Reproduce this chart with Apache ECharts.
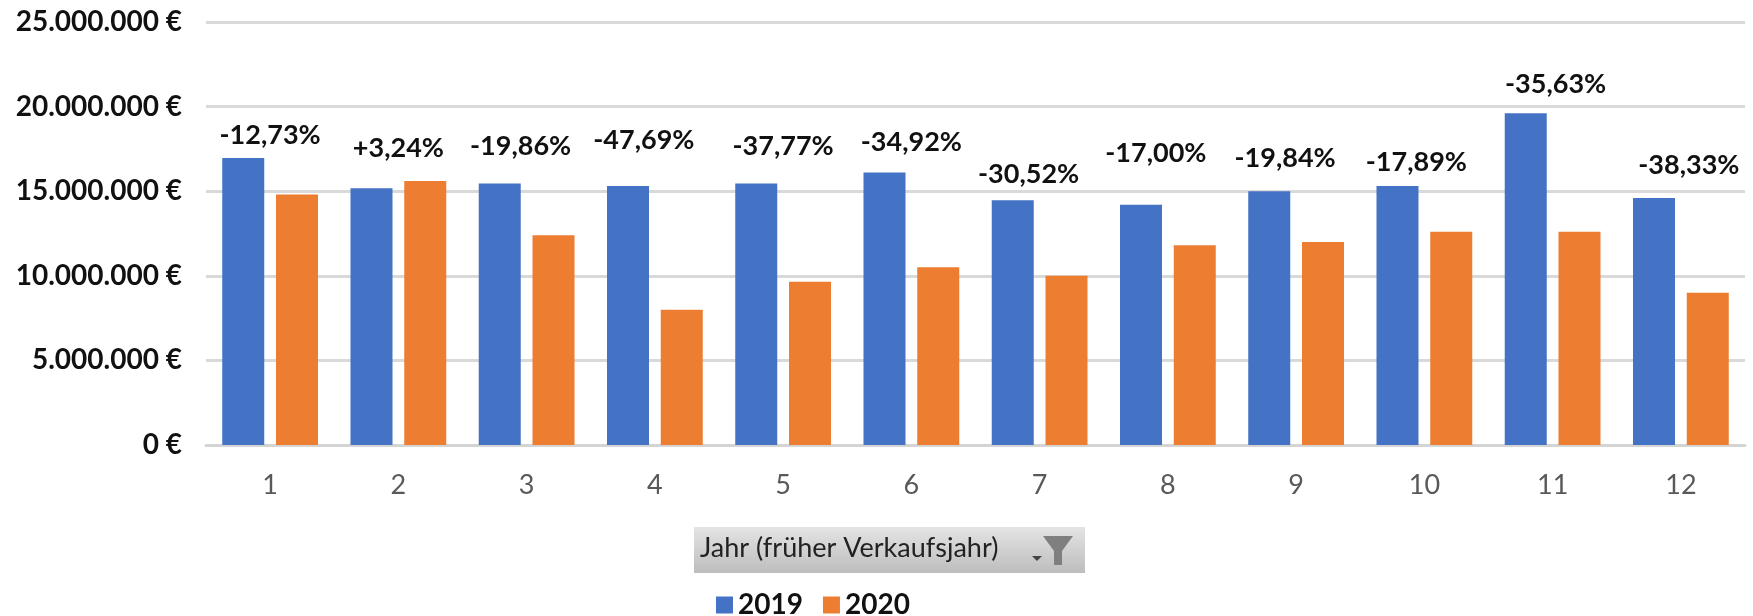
<!DOCTYPE html>
<html><head><meta charset="utf-8">
<style>html,body{margin:0;padding:0;background:#fff}#c{width:1753px;height:616px}</style>
<script src="https://cdn.jsdelivr.net/npm/echarts@6/dist/echarts.min.js"></script>
</head><body><div id="c"></div>
<script>
const categories = ['1','2','3','4','5','6','7','8','9','10','11','12'];
const values2019 = [16960000,15180000,15450000,15300000,15450000,16100000,14460000,14200000,15000000,15300000,19600000,14600000];
const values2020 = [14800000,15600000,12400000,8000000,9650000,10500000,10000000,11800000,12000000,12600000,12600000,9000000];
const changeLabels = ['-12,73%','+3,24%','-19,86%','-47,69%','-37,77%','-34,92%','-30,52%','-17,00%','-19,84%','-17,89%','-35,63%','-38,33%'];
const labelHeights = [18280000,17550000,17680000,18000000,17680000,17880000,15990000,17260000,16930000,16730000,21310000,16540000];
const labelShift = [0,0,-6,-11,0,0,-11,-12,-11,-8,3,8];
const axisTicks = [0,5000000,10000000,15000000,20000000,25000000];
const filterTitle = 'Jahr (früher Verkaufsjahr)';

const FONT = 'Lato, "Open Sans", sans-serif';
const euro = v => String(v).replace(/\B(?=(\d{3})+(?!\d))/g,'.') + ' €';
const chart = echarts.init(document.getElementById('c'));
chart.setOption({
  animation:false,
  backgroundColor:'#fff',
  textStyle:{fontFamily:FONT},
  legend:{
    data:['2019','2020'], left:711, top:586, itemWidth:17, itemHeight:17, itemGap:20,
    icon:'rect',
    textStyle:{fontFamily:FONT,fontSize:28,fontWeight:'bold',color:'#111'}
  },
  grid:{left:206,right:8,top:22,bottom:171,containLabel:false},
  xAxis:{
    type:'category',data:categories,
    axisLine:{lineStyle:{color:'#d4d4d4',width:3}},axisTick:{show:false},
    axisLabel:{color:'#595959',fontSize:27,margin:27,fontFamily:FONT}
  },
  yAxis:{
    type:'value',min:axisTicks[0],max:axisTicks[axisTicks.length-1],interval:axisTicks[1],
    axisLine:{show:false},axisTick:{show:false},
    splitLine:{lineStyle:{color:'#d9d9d9',width:3}},
    axisLabel:{formatter:euro,color:'#111',fontSize:28,fontWeight:'bold',margin:24,fontFamily:FONT}
  },
  series:[
    {name:'2019',type:'bar',data:values2019,barWidth:42,barGap:'28%',itemStyle:{color:'#4472C4'},z:2},
    {name:'2020',type:'bar',data:values2020,barWidth:42,itemStyle:{color:'#ED7D31'},z:2},
    {name:'Veränderung',type:'scatter',symbolSize:1,itemStyle:{color:'transparent',opacity:1},z:3,silent:true,
      label:{show:true,position:'inside',color:'#111',fontSize:27,fontWeight:'bold',fontFamily:FONT,
        formatter:p=>changeLabels[p.dataIndex]},
      data:labelHeights.map((h,i)=>({
        value:[i,h],
        label:{offset:[labelShift[i],0]}
      }))
    }
  ],
  graphic:[
    {type:'rect',left:694,top:527,shape:{width:391,height:46},
      style:{fill:new echarts.graphic.LinearGradient(0,0,0,1,[{offset:0,color:'#e4e4e4'},{offset:1,color:'#bdbdbd'}])}},
    {type:'text',left:700,top:535,style:{text:filterTitle,fill:'#222',fontSize:27,fontFamily:FONT}},
    {type:'polygon',shape:{points:[[1043,536],[1073,536],[1062,551],[1062,565],[1054,565],[1054,551]]},style:{fill:'#7f7f7f'}},
    {type:'polygon',shape:{points:[[1032,556],[1042,556],[1037,561]]},style:{fill:'#444'}}
  ]
});
</script></body></html>
